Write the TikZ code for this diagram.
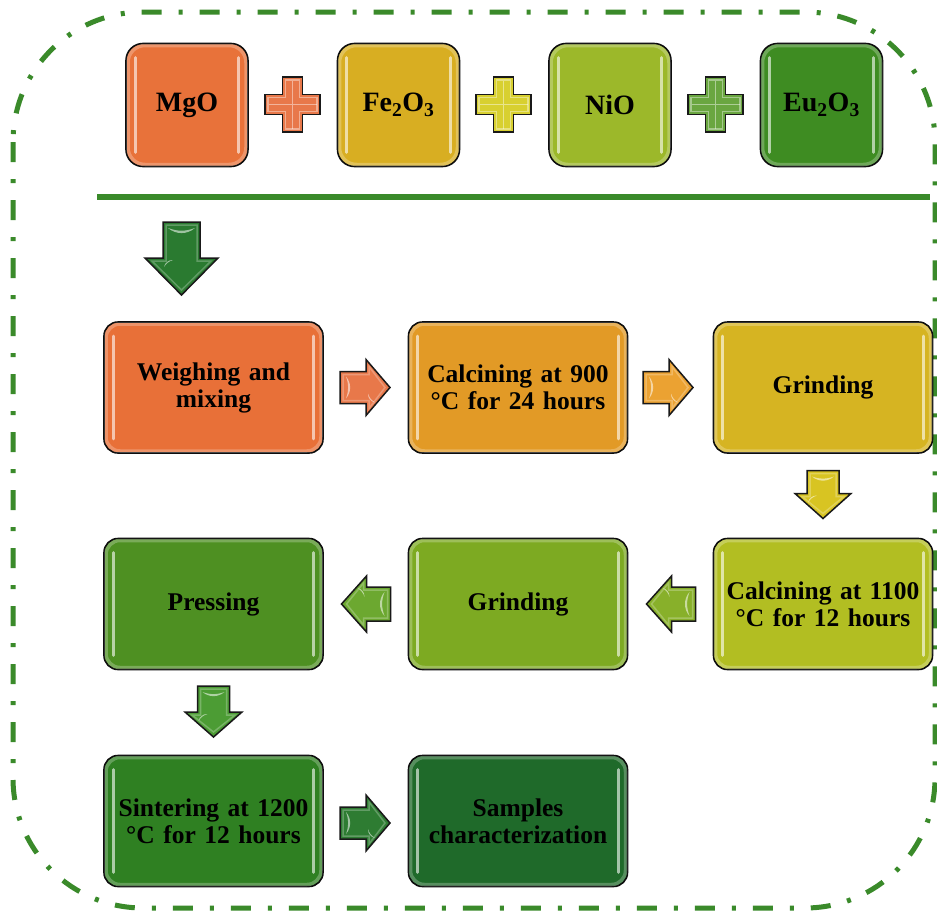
\documentclass[tikz,border=0pt]{standalone}
\usepackage{fontspec}
\setmainfont{Liberation Serif}
\definecolor{cMgO}{HTML}{E8723A}
\definecolor{cFe}{HTML}{D8AE22}
\definecolor{cNi}{HTML}{9CB82A}
\definecolor{cEu}{HTML}{3E8C22}
\definecolor{cW}{HTML}{E87038}
\definecolor{cCa}{HTML}{E29A26}
\definecolor{cGa}{HTML}{D6B422}
\definecolor{cCb}{HTML}{B2BE22}
\definecolor{cGb}{HTML}{7DAA22}
\definecolor{cP}{HTML}{4E9022}
\definecolor{cS}{HTML}{2F8022}
\definecolor{cSam}{HTML}{1F6A2A}
\definecolor{aRa}{HTML}{E8784A}
\definecolor{aRb}{HTML}{EBA232}
\definecolor{aDb}{HTML}{D8C422}
\definecolor{aLa}{HTML}{88B02A}
\definecolor{aLb}{HTML}{6CA830}
\definecolor{aDc}{HTML}{4C9C34}
\definecolor{aRc}{HTML}{2E7C32}
\definecolor{aDa}{HTML}{2A7A30}
\definecolor{pa}{HTML}{E8784A}
\definecolor{pb}{HTML}{D8D030}
\definecolor{pc}{HTML}{6AA640}
\definecolor{bord}{HTML}{3A8A2A}
\newcommand\glossy[2][14pt]{%
  \draw[rim, rounded corners=#1] ([shift={(2.8pt,2.8pt)}]#2.south west) rectangle ([shift={(-2.8pt,-2.8pt)}]#2.north east);
  \draw[hl] ([shift={(10pt,-15pt)}]#2.north west) -- ([shift={(10pt,15pt)}]#2.south west);
  \draw[hl] ([shift={(-10pt,-15pt)}]#2.north east) -- ([shift={(-10pt,15pt)}]#2.south east);
}
\tikzset{
  pics/barrow/.style n args={5}{code={
    \path[draw=black!90, line width=1.5pt, line join=miter, fill=#5]
      (-#1/2,-#3) -- ({#1/2-#4},-#3) -- ({#1/2-#4},-#2) -- (#1/2,0) -- ({#1/2-#4},#2) -- ({#1/2-#4},#3) -- (-#1/2,#3) -- cycle;
    \path[draw=white, opacity=0.25, line width=1.5pt, line join=miter]
      ({-#1/2+3},{-#3+3}) -- ({#1/2-#4+3},{-#3+3}) -- ({#1/2-#4+3},{-#2+7}) -- ({#1/2-5},0) -- ({#1/2-#4+3},{#2-7}) -- ({#1/2-#4+3},{#3-3}) -- ({-#1/2+3},{#3-3}) -- cycle;
    \fill[white, opacity=0.55] ({-#1/2+6},{#3-5}) to[bend left=40] ({-#1/2+6},{-#3+5}) to[bend right=20] cycle;
    \fill[white, opacity=0.55] ({#1/2-#4+9},{-#3+1}) to[bend left=40] ({#1/2-#4+2},{-#3+10}) to[bend right=20] cycle;
  }},
  pics/plussign/.style={code={
    \path[draw=black!90, line width=1.4pt, fill=#1]
      (-10,27.5) -- (10,27.5) -- (10,10) -- (27.5,10) -- (27.5,-10) -- (10,-10) -- (10,-27.5) -- (-10,-27.5) -- (-10,-10) -- (-27.5,-10) -- (-27.5,10) -- (-10,10) -- cycle;
    \path[draw=white, opacity=0.4, line width=1.2pt]
      (-7,24.5) -- (7,24.5) -- (7,7) -- (24.5,7) -- (24.5,-7) -- (7,-7) -- (7,-24.5) -- (-7,-24.5) -- (-7,-7) -- (-24.5,-7) -- (-24.5,7) -- (-7,7) -- cycle;
    \draw[white, opacity=0.45, line width=1pt] (-24,0) -- (24,0) (0,-24) -- (0,24);
  }}
}
\begin{document}
\begin{tikzpicture}[x=1pt,y=1pt,
  box/.style={draw=black!95, line width=1.6pt, rounded corners=14pt, minimum width=219pt, minimum height=131pt, inner sep=0pt, align=center, text width=215pt, font=\fontsize{25.5}{27}\selectfont\bfseries, fill=#1},
  sbox/.style={box=#1, minimum width=122pt, minimum height=123pt, text width=118pt, rounded corners=17pt, font=\fontsize{28}{30}\selectfont\bfseries},
  hl/.style={line width=3pt, line cap=round, white, opacity=0.6},
  rim/.style={line width=3.5pt, white, opacity=0.25},
  border/.style={draw=bord, line width=5pt, dash pattern=on 20pt off 17pt on 4pt off 17pt},
]
\fill[white] (0,0) rectangle (937,-913);
\useasboundingbox (0,0) rectangle (937,-913);
\draw[border, rounded corners=130pt] (13,-12) rectangle (935,-908);

% top row
\node[sbox=cMgO] (mgo) at (187,-105) {MgO};
\node[sbox=cFe] (fe) at (398.5,-105) {Fe\textsubscript{2}O\textsubscript{3}};
\node[sbox=cNi] (ni) at (610,-105) {NiO};
\node[sbox=cEu] (eu) at (821.5,-105) {Eu\textsubscript{2}O\textsubscript{3}};
\glossy[17pt]{mgo}\glossy[17pt]{fe}\glossy[17pt]{ni}\glossy[17pt]{eu}
\pic (p1) at (292.5,-104.5) {plussign=pa};
\pic (p2) at (503.5,-104.5) {plussign=pb};
\pic (p3) at (715.5,-104.5) {plussign=pc};

\draw[bord, line width=6pt] (97,-197) -- (930,-197);

\pic[rotate=-90] (d1) at (181.5,-258.5) {barrow={73}{36.5}{18.5}{37}{aDa}};

% row 2
\node[box=cW] (weigh) at (213.5,-387.5) {Weighing and\\mixing};
\node[box=cCa] (calc9) at (518,-387.5) {Calcining at 900\\°C for 24 hours};
\node[box=cGa] (grind1) at (823,-387.5) {Grinding};
\glossy{weigh}\glossy{calc9}\glossy{grind1}
\pic (r1) at (365,-387.5) {barrow={50}{28}{16}{24}{aRa}};
\pic (r2) at (668,-387.5) {barrow={50}{28}{16}{24}{aRb}};
\pic[rotate=-90] (d2) at (823,-494.5) {barrow={48}{28}{16}{25}{aDb}};

% row 3
\node[box=cCb] (calc11) at (823,-604) {Calcining at 1100\\°C for 12 hours};
\node[box=cGb] (grind2) at (518,-604) {Grinding};
\node[box=cP] (press) at (213.5,-604) {Pressing};
\glossy{calc11}\glossy{grind2}\glossy{press}
\pic[rotate=180] (l1) at (671,-604) {barrow={49}{28}{17}{25}{aLa}};
\pic[rotate=180] (l2) at (366,-604) {barrow={49}{28}{17}{25}{aLb}};
\pic[rotate=-90] (d3) at (213.5,-711.5) {barrow={51}{28.5}{16}{25}{aDc}};

% row 4
\node[box=cS] (sinter) at (213.5,-821) {Sintering at 1200\\°C for 12 hours};
\node[box=cSam] (samp) at (518,-821) {Samples\\characterization};
\glossy{sinter}\glossy{samp}
\pic (r3) at (365,-823) {barrow={50}{28}{16}{24}{aRc}};
\end{tikzpicture}
\end{document}
